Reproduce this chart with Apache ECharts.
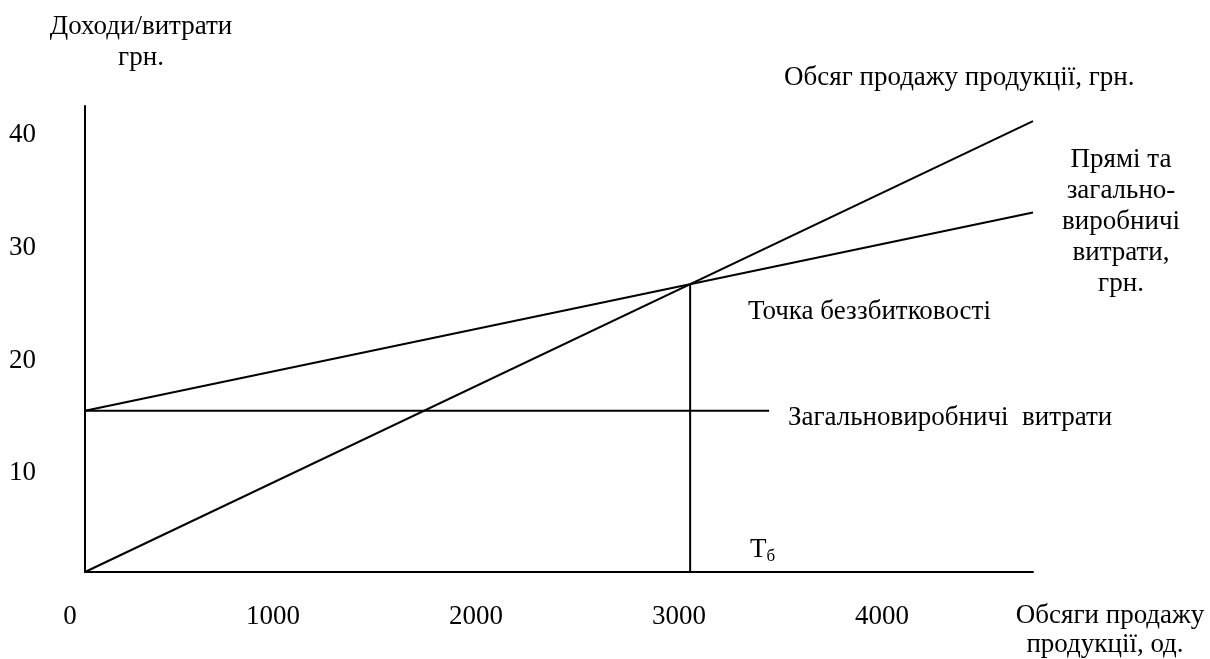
<!DOCTYPE html>
<html>
<head>
<meta charset="utf-8">
<script src="https://cdn.jsdelivr.net/npm/echarts@6/dist/echarts.min.js"></script>
<style>
html,body{margin:0;padding:0;background:#fff;}
#chart{width:1210px;height:659px;}
</style>
</head>
<body>
<div id="chart"></div>
<script>
// ---- data ----
const xTicks = [0, 1000, 2000, 3000, 4000];
const yTicks = [10, 20, 30, 40];
const xMax = 4670;
const yMax = 41.35;
const revenueX = [0, 4670];
const revenueY = [0, 40.0];
const totalCostX = [0, 4670];
const totalCostY = [14.3, 31.9];
const fixedCostX = [0, 3370];
const fixedCostY = [14.3, 14.3];
const breakevenX = [2981, 2981];
const breakevenY = [0, 25.5];

const pairs = (xs, ys) => xs.map((x, i) => [x, ys[i]]);

const FONT = '"Liberation Serif", "Times New Roman", serif';
const FS = 27;
const lineStyle = { color: '#000', width: 2 };
const mkLine = (name, xs, ys) => ({
  name, type: 'line', data: pairs(xs, ys), symbol: 'none',
  lineStyle, silent: true, animation: false, z: 3
});

const chart = echarts.init(document.getElementById('chart'), null, { renderer: 'canvas' });
const txt = (text, x, y, align) => ({
  type: 'text', x, y,
  style: { text, fontFamily: FONT, fontSize: FS, fill: '#000', align: align || 'left', verticalAlign: 'middle' }
});

chart.setOption({
  backgroundColor: '#fff',
  animation: false,
  grid: { left: 85, top: 106, right: 177, bottom: 87, containLabel: false },
  xAxis: {
    type: 'value', min: 0, max: xMax, interval: 1000,
    axisLine: { show: true, lineStyle: { color: '#000', width: 2 } },
    axisTick: { show: false },
    splitLine: { show: false },
    axisLabel: {
      showMaxLabel: false,
      margin: 31, color: '#000', fontFamily: FONT, fontSize: FS,
      padding: [0, 30, 0, 0],
      formatter: v => xTicks.includes(v) ? String(v) : ''
    }
  },
  yAxis: {
    type: 'value', min: 0, max: yMax, interval: 10,
    axisLine: { show: true, lineStyle: { color: '#000', width: 2 } },
    axisTick: { show: false },
    splitLine: { show: false },
    axisLabel: {
      showMinLabel: false, showMaxLabel: false,
      margin: 49, color: '#000', fontFamily: FONT, fontSize: FS,
      verticalAlign: 'top', lineHeight: 28,
      formatter: v => yTicks.includes(v) ? String(v) : ''
    }
  },
  series: [
    mkLine('Обсяг продажу продукції, грн.', revenueX, revenueY),
    mkLine('Прямі та загальновиробничі витрати, грн.', totalCostX, totalCostY),
    mkLine('Загальновиробничі витрати', fixedCostX, fixedCostY),
    mkLine('Точка беззбитковості', breakevenX, breakevenY)
  ],
  graphic: [
    txt('Доходи/витрати', 141, 27, 'center'),
    txt('грн.', 141, 58, 'center'),
    txt('Обсяг продажу продукції, грн.', 784, 78),
    txt('Прямі та', 1121, 160, 'center'),
    txt('загально-', 1121, 191, 'center'),
    txt('виробничі', 1121, 222, 'center'),
    txt('витрати,', 1121, 253, 'center'),
    txt('грн.', 1121, 284, 'center'),
    txt('Точка беззбитковості', 748, 312),
    txt('Загальновиробничі  витрати', 788, 418),
    {
      type: 'text', x: 750, y: 550,
      style: {
        text: '{a|Т}{b|б}', fontFamily: FONT, fill: '#000', verticalAlign: 'middle',
        rich: {
          a: { fontFamily: FONT, fontSize: FS, fill: '#000' },
          b: { fontFamily: FONT, fontSize: 17, fill: '#000', padding: [13, 0, 0, 0] }
        }
      }
    },
    txt('Обсяги продажу', 1110, 616, 'center'),
    txt('продукції, од.', 1105, 645, 'center')
  ]
});
</script>
</body>
</html>
